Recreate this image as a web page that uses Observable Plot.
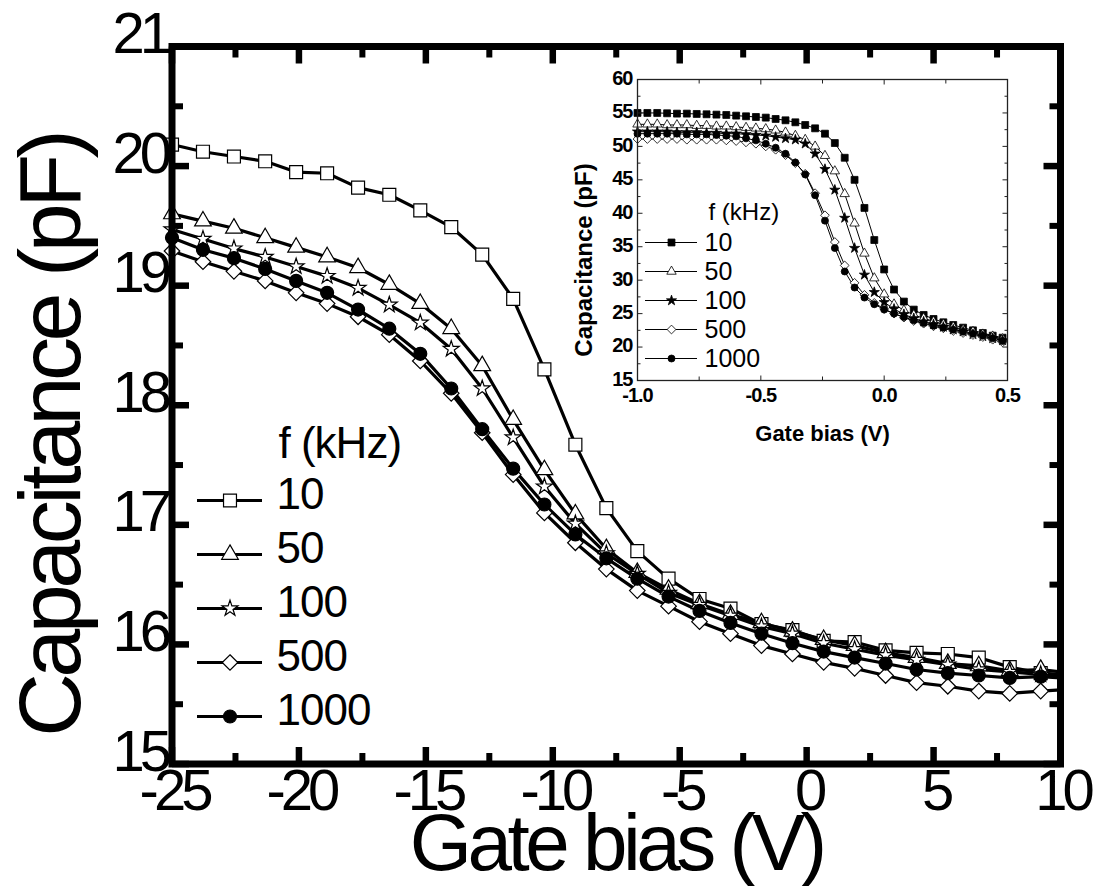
<!DOCTYPE html>
<html><head><meta charset="utf-8">
<script src="https://cdn.jsdelivr.net/npm/d3@7"></script>
<script src="https://cdn.jsdelivr.net/npm/@observablehq/plot@0.6"></script>
<style>
html,body{margin:0;padding:0;background:#fff;}
#wrap{position:relative;width:1107px;height:886px;overflow:hidden;background:#fff;}
#wrap svg{position:absolute;}
</style></head><body><div id="wrap"></div>
<script>
// ---------- main chart data ----------
const biasMain = [-25, -23.78, -22.56, -21.33, -20.11, -18.89, -17.67, -16.44, -15.22, -14.0, -12.78, -11.56, -10.33, -9.11, -7.89, -6.67, -5.44, -4.22, -3.0, -1.78, -0.56, 0.67, 1.89, 3.11, 4.33, 5.56, 6.78, 8.0, 9.22, 10];
const cap10   = [20.18, 20.12, 20.08, 20.04, 19.95, 19.94, 19.82, 19.76, 19.63, 19.49, 19.26, 18.89, 18.30, 17.67, 17.14, 16.78, 16.55, 16.38, 16.30, 16.17, 16.12, 16.03, 16.02, 15.95, 15.93, 15.92, 15.89, 15.81, 15.76, 15.75];
const cap50   = [19.60, 19.54, 19.48, 19.40, 19.32, 19.24, 19.15, 19.01, 18.85, 18.64, 18.33, 17.88, 17.46, 17.09, 16.80, 16.60, 16.46, 16.34, 16.25, 16.18, 16.11, 16.04, 15.99, 15.93, 15.89, 15.84, 15.82, 15.78, 15.79, 15.77];
const cap100  = [19.47, 19.39, 19.31, 19.24, 19.16, 19.08, 18.98, 18.84, 18.69, 18.47, 18.14, 17.73, 17.32, 17.01, 16.76, 16.59, 16.43, 16.33, 16.24, 16.15, 16.09, 16.01, 15.96, 15.91, 15.87, 15.83, 15.79, 15.77, 15.75, 15.74];
const cap500  = [19.29, 19.20, 19.12, 19.04, 18.94, 18.85, 18.74, 18.59, 18.37, 18.10, 17.77, 17.42, 17.10, 16.85, 16.63, 16.45, 16.32, 16.19, 16.09, 15.99, 15.92, 15.85, 15.80, 15.74, 15.68, 15.65, 15.61, 15.59, 15.61, 15.62];
const cap1000 = [19.40, 19.30, 19.23, 19.14, 19.04, 18.94, 18.80, 18.64, 18.43, 18.14, 17.80, 17.47, 17.17, 16.92, 16.72, 16.55, 16.40, 16.28, 16.18, 16.09, 16.01, 15.94, 15.89, 15.84, 15.79, 15.76, 15.74, 15.72, 15.73, 15.72];
const markedPoints = 29; // markers drawn on the first 29 samples
const freqLabels = ["10", "50", "100", "500", "1000"];
const legendTitle = "f (kHz)";
const xTitleMain = "Gate bias (V)";
const yTitleMain = "Capacitance (pF)";
const xTicksMain = [-25, -20, -15, -10, -5, 0, 5, 10];
const xTickLabelsMain = ["-25", "-20", "-15", "-10", "-5", "0", "5", "10"];
const xMinorMain = [-22.5, -17.5, -12.5, -7.5, -2.5, 2.5, 7.5];
const yTicksMain = [15, 16, 17, 18, 19, 20, 21];
const yTickLabelsMain = ["15", "16", "17", "18", "19", "20", "21"];
const yMinorMain = [15.5, 16.5, 17.5, 18.5, 19.5, 20.5];

// ---------- inset data ----------
const biasInset = [-1.00, -0.96, -0.92, -0.88, -0.84, -0.80, -0.76, -0.72, -0.68, -0.64, -0.60, -0.56, -0.52, -0.48, -0.44, -0.40, -0.36, -0.32, -0.28, -0.24, -0.20, -0.16, -0.12, -0.08, -0.04, 0.00, 0.04, 0.08, 0.12, 0.16, 0.20, 0.24, 0.28, 0.32, 0.36, 0.40, 0.44, 0.48];
const ins10   = [55.0, 55.0, 55.0, 54.95, 54.9, 54.9, 54.85, 54.8, 54.75, 54.7, 54.6, 54.5, 54.4, 54.3, 54.1, 53.9, 53.6, 53.2, 52.7, 51.9, 50.5, 48.3, 45.0, 40.8, 36.0, 31.6, 28.6, 26.8, 25.6, 24.8, 24.2, 23.7, 23.3, 22.9, 22.5, 22.1, 21.7, 21.4];
const ins50   = [53.3, 53.3, 53.3, 53.2, 53.2, 53.2, 53.1, 53.1, 53.0, 53.0, 52.9, 52.8, 52.7, 52.6, 52.4, 52.1, 51.6, 51.0, 50.0, 48.6, 46.3, 42.9, 38.5, 34.0, 30.3, 27.9, 26.4, 25.5, 24.8, 24.3, 23.8, 23.4, 23.0, 22.6, 22.3, 21.9, 21.6, 21.2];
const ins100  = [52.2, 52.2, 52.2, 52.2, 52.1, 52.1, 52.1, 52.0, 52.0, 51.9, 51.9, 51.8, 51.7, 51.6, 51.4, 51.2, 51.0, 50.4, 48.9, 46.6, 43.5, 39.3, 34.8, 30.8, 28.2, 26.7, 25.7, 24.9, 24.3, 23.8, 23.4, 23.0, 22.6, 22.3, 21.9, 21.6, 21.3, 21.0];
const ins500  = [51.1, 51.1, 51.1, 51.1, 51.1, 51.0, 51.0, 51.0, 51.0, 50.9, 50.8, 50.6, 50.4, 50.0, 49.5, 48.7, 47.5, 45.9, 43.0, 39.7, 35.7, 32.2, 29.6, 27.8, 26.6, 25.7, 25.0, 24.4, 23.9, 23.5, 23.1, 22.8, 22.4, 22.1, 21.8, 21.5, 21.1, 20.7];
const ins1000 = [51.9, 51.9, 51.9, 51.9, 51.9, 51.8, 51.8, 51.8, 51.7, 51.6, 51.5, 51.2, 50.9, 50.4, 49.8, 48.9, 47.6, 45.8, 42.7, 38.9, 34.8, 31.3, 28.9, 27.4, 26.4, 25.6, 25.0, 24.5, 24.0, 23.6, 23.2, 22.9, 22.6, 22.3, 22.0, 21.7, 21.3, 20.9];
const xTicksInset = [-1, -0.5, 0, 0.5];
const xTickLabelsInset = ["-1.0", "-0.5", "0.0", "0.5"];
const xMinorInset = [-0.75, -0.25, 0.25];
const yTicksInset = [15, 20, 25, 30, 35, 40, 45, 50, 55, 60];
const yMinorInset = [17.5, 22.5, 27.5, 32.5, 37.5, 42.5, 47.5, 52.5, 57.5];

// ---------- helpers ----------
const FONT = "'Liberation Sans', Arial, Helvetica, sans-serif";
const seg = (dx, dy) => ({draw(ctx) { ctx.moveTo(0, 0); ctx.lineTo(dx, dy); }});
const diamondSym = {draw(ctx, size) { const h = Math.sqrt(size / 2); ctx.moveTo(0, -h); ctx.lineTo(h, 0); ctx.lineTo(0, h); ctx.lineTo(-h, 0); ctx.closePath(); }};

function tickMarks(vals, dim, len, sw, color) {
  const base = {stroke: color, strokeWidth: sw, fill: "none", r: 1};
  if (dim === "x") return [
    Plot.dot(vals, {...base, x: d => d, frameAnchor: "bottom", symbol: seg(0, -len)}),
    Plot.dot(vals, {...base, x: d => d, frameAnchor: "top", symbol: seg(0, len)})
  ];
  return [
    Plot.dot(vals, {...base, y: d => d, frameAnchor: "left", symbol: seg(len, 0)}),
    Plot.dot(vals, {...base, y: d => d, frameAnchor: "right", symbol: seg(-len, 0)})
  ];
}

function styleText(svg, rules) {
  for (const [desc, ls] of rules) {
    svg.querySelectorAll(`g[aria-description="${desc}"] text`).forEach(t => t.style.letterSpacing = ls);
  }
}

const wrap = document.getElementById("wrap");
function place(svg, left, top) { svg.style.left = left + "px"; svg.style.top = top + "px"; wrap.appendChild(svg); }

// ---------- main chart ----------
const mainSeries = [
  {f: "10", vals: cap10, symbol: "square", r: 7.3, fill: "white"},
  {f: "50", vals: cap50, symbol: "triangle", r: 6.2, fill: "white"},
  {f: "100", vals: cap100, symbol: "star", r: 5.0, fill: "white"},
  {f: "500", vals: cap500, symbol: diamondSym, r: 6.2, fill: "white"},
  {f: "1000", vals: cap1000, symbol: "circle", r: 6.5, fill: "black"}
];
const mainRows = mainSeries.flatMap(s => biasMain.map((x, i) => ({f: s.f, x, y: s.vals[i], i})));

const mainMarks = [];
for (const s of mainSeries) {
  mainMarks.push(Plot.line(mainRows.filter(d => d.f === s.f), {x: "x", y: "y", stroke: "black", strokeWidth: 3.2, strokeLinejoin: "round"}));
}
for (const s of mainSeries) {
  mainMarks.push(Plot.dot(mainRows.filter(d => d.f === s.f && d.i < markedPoints), {x: "x", y: "y", symbol: s.symbol, r: s.r, fill: s.fill, stroke: "black", strokeWidth: 1.2}));
}
mainMarks.push(...tickMarks(xTicksMain, "x", 17, 6.5, "black"));
mainMarks.push(...tickMarks(xMinorMain, "x", 11, 6, "black"));
mainMarks.push(...tickMarks(yTicksMain, "y", 17, 6.5, "black"));
mainMarks.push(...tickMarks(yMinorMain, "y", 11, 6, "black"));
mainMarks.push(Plot.frame({stroke: "black", strokeWidth: 7}));
mainMarks.push(Plot.text(xTicksMain, {x: d => d, text: (d, i) => xTickLabelsMain[i], frameAnchor: "bottom", textAnchor: "middle", lineAnchor: "top", dy: 5, dx: 2, fontSize: 58, fill: "black", ariaDescription: "tick"}));
mainMarks.push(Plot.text(yTicksMain, {y: d => d, text: (d, i) => yTickLabelsMain[i], frameAnchor: "left", textAnchor: "end", lineAnchor: "middle", dx: -5, dy: -12, fontSize: 58, fill: "black", ariaDescription: "tick"}));
mainMarks.push(Plot.text([xTitleMain], {text: d => d, frameAnchor: "bottom", textAnchor: "middle", lineAnchor: "bottom", dy: 106, fontSize: 80, fill: "black", ariaDescription: "xtitle"}));
mainMarks.push(Plot.text([yTitleMain], {text: d => d, frameAnchor: "left", textAnchor: "middle", lineAnchor: "bottom", rotate: -90, dx: -92, dy: 30, fontSize: 88, fill: "black", ariaDescription: "ytitle"}));

const mainSvg = Plot.plot({
  width: 1107, height: 886,
  marginLeft: 171.5, marginRight: 47, marginTop: 46, marginBottom: 122.5,
  x: {domain: [-25, 10], axis: null},
  y: {domain: [15, 21], axis: null},
  style: {fontFamily: FONT, background: "transparent", overflow: "visible"},
  marks: mainMarks
});
place(mainSvg, 0, 0);
styleText(mainSvg, [["tick", "-5px"], ["xtitle", "-4.5px"], ["ytitle", "-4.5px"]]);

// ---------- main legend ----------
const legendRows = [legendTitle, ...freqLabels];
const legMarks = [
  Plot.ruleY(freqLabels, {y: d => d, x1: () => 0, x2: () => 1, stroke: "black", strokeWidth: 3.2})
];
for (const s of mainSeries) {
  legMarks.push(Plot.dot([s.f], {y: d => d, x: () => 0.5, symbol: s.symbol, r: s.r, fill: s.fill, stroke: "black", strokeWidth: 1.2}));
}
legMarks.push(Plot.text(freqLabels, {y: d => d, x: () => 1, text: d => d, dx: 14, dy: -6, textAnchor: "start", lineAnchor: "middle", fontSize: 44, fill: "black", ariaDescription: "leg"}));
legMarks.push(Plot.text([legendTitle], {y: d => d, x: () => 1, text: d => d, dx: 16, dy: -3, textAnchor: "start", lineAnchor: "middle", fontSize: 44, fill: "black", ariaDescription: "legt"}));
const legSvg = Plot.plot({
  width: 260, height: 350, marginLeft: 47, marginRight: 148, marginTop: 44, marginBottom: 32,
  x: {domain: [0, 1], axis: null},
  y: {type: "point", domain: legendRows, padding: 0, axis: null},
  style: {fontFamily: FONT, background: "transparent", overflow: "visible"},
  marks: legMarks
});
place(legSvg, 150, 400);
styleText(legSvg, [["leg", "-1px"], ["legt", "-1px"]]);

// ---------- inset ----------
const insetSeries = [
  {f: "10", vals: ins10, symbol: "square", r: 3.9, fill: "black"},
  {f: "50", vals: ins50, symbol: "triangle", r: 3.5, fill: "white"},
  {f: "100", vals: ins100, symbol: "star", r: 3.2, fill: "black"},
  {f: "500", vals: ins500, symbol: diamondSym, r: 3.5, fill: "white"},
  {f: "1000", vals: ins1000, symbol: "circle", r: 3.5, fill: "black"}
];
const insetRows = insetSeries.flatMap(s => biasInset.map((x, i) => ({f: s.f, x, y: s.vals[i]})));
const insMarks = [];
for (const s of insetSeries) {
  insMarks.push(Plot.line(insetRows.filter(d => d.f === s.f), {x: "x", y: "y", stroke: "black", strokeWidth: 1}));
}
for (const s of insetSeries) {
  insMarks.push(Plot.dot(insetRows.filter(d => d.f === s.f), {x: "x", y: "y", symbol: s.symbol, r: s.r, fill: s.fill, stroke: "black", strokeWidth: 0.8}));
}
insMarks.push(...tickMarks(xTicksInset, "x", 5, 1, "#222"));
insMarks.push(...tickMarks(xMinorInset, "x", 4, 1, "#222"));
insMarks.push(...tickMarks(yTicksInset, "y", 5, 1, "#222"));
insMarks.push(...tickMarks(yMinorInset, "y", 3, 1, "#222"));
insMarks.push(Plot.frame({stroke: "#222", strokeWidth: 1.3}));
insMarks.push(Plot.text(xTicksInset, {x: d => d, text: (d, i) => xTickLabelsInset[i], frameAnchor: "bottom", textAnchor: "middle", lineAnchor: "top", dy: 7, fontSize: 20, fontWeight: "bold", fill: "black", ariaDescription: "itick"}));
insMarks.push(Plot.text(yTicksInset, {y: d => d, text: (d, i) => String(d), frameAnchor: "left", textAnchor: "end", lineAnchor: "middle", dx: -5, dy: -1, fontSize: 20, fontWeight: "bold", fill: "black", ariaDescription: "itick"}));
insMarks.push(Plot.text([xTitleMain], {text: d => d, frameAnchor: "bottom", textAnchor: "middle", lineAnchor: "bottom", dy: 60, fontSize: 22, fontWeight: "bold", fill: "black"}));
insMarks.push(Plot.text([yTitleMain], {text: d => d, frameAnchor: "left", textAnchor: "middle", lineAnchor: "bottom", rotate: -90, dx: -46, dy: 30, fontSize: 24, fontWeight: "bold", fill: "black"}));
const insSvg = Plot.plot({
  width: 460, height: 390, marginLeft: 77, marginRight: 13, marginTop: 10, marginBottom: 79,
  x: {domain: [-1, 0.5], axis: null},
  y: {domain: [15, 60], axis: null},
  style: {fontFamily: FONT, background: "transparent", overflow: "visible"},
  marks: insMarks
});
place(insSvg, 560, 69);
styleText(insSvg, [["itick", "-1px"]]);

// ---------- inset legend ----------
const insLegMarks = [
  Plot.ruleY(freqLabels, {y: d => d, x1: () => 0, x2: () => 1, stroke: "black", strokeWidth: 1})
];
for (const s of insetSeries) {
  insLegMarks.push(Plot.dot([s.f], {y: d => d, x: () => 0.5, symbol: s.symbol, r: s.r, fill: s.fill, stroke: "black", strokeWidth: 0.8}));
}
insLegMarks.push(Plot.text(freqLabels, {y: d => d, x: () => 1, text: d => d, dx: 7, textAnchor: "start", lineAnchor: "middle", fontSize: 25, fill: "black"}));
insLegMarks.push(Plot.text([legendTitle], {y: d => d, x: () => 1, text: d => d, dx: 11, dy: -1, textAnchor: "start", lineAnchor: "middle", fontSize: 24, fill: "black"}));
const insLegSvg = Plot.plot({
  width: 140, height: 200, marginLeft: 25, marginRight: 63, marginTop: 32.7, marginBottom: 22,
  x: {domain: [0, 1], axis: null},
  y: {type: "point", domain: legendRows, padding: 0, axis: null},
  style: {fontFamily: FONT, background: "transparent", overflow: "visible"},
  marks: insLegMarks
});
place(insLegSvg, 620, 180);
</script></body></html>
